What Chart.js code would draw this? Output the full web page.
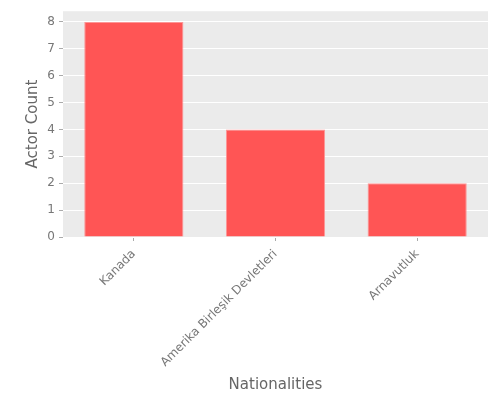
<!DOCTYPE html>
<html lang="tr">
<head>
  <meta charset="UTF-8" />
  <title>Actor Count by Nationality</title>
  <style>
    html, body {
      margin: 0;
      padding: 0;
      background: #fff;
    }
    #wrap {
      width: 500px;
      height: 400px;
    }
  </style>
</head>
<body>
  <div id="wrap"><canvas id="barChart"></canvas></div>

  <script src="https://cdn.jsdelivr.net/npm/chart.js"></script>
  <script>
    // data
    const nationalities = ['Kanada', 'Amerika Birleşik Devletleri', 'Arnavutluk'];
    const actorCounts = [8, 4, 2];
    const yTicks = [0, 1, 2, 3, 4, 5, 6, 7, 8];

    const FONT = "'DejaVu Sans', sans-serif";
    const GREY = '#777';

    // grey panel behind the plot, ggplot style
    const panelBg = {
      id: 'panelBg',
      beforeDraw(chart) {
        const a = chart.chartArea;
        const ctx = chart.ctx;
        ctx.save();
        ctx.fillStyle = '#ebebeb';
        ctx.fillRect(a.left, a.top, a.right - a.left, a.bottom - a.top);
        ctx.restore();
      }
    };

    const ctx = document.getElementById('barChart').getContext('2d');
    const barChart = new Chart(ctx, {
      type: 'bar',
      data: {
        labels: nationalities,
        datasets: [{
          label: 'Actor Count',
          data: actorCounts,
          backgroundColor: '#ff5555',
          borderColor: 'rgba(255, 140, 140, 0.9)',
          borderWidth: 1,
          barPercentage: 0.7,
          categoryPercentage: 1.0
        }]
      },
      options: {
        responsive: true,
        maintainAspectRatio: false,
        animation: false,
        layout: {
          padding: { top: 10, right: 12, left: 0, bottom: 0 }
        },
        plugins: {
          legend: { display: false },
          tooltip: { enabled: false }
        },
        scales: {
          x: {
            offset: true,
            border: { display: false },
            grid: {
              offset: false,
              drawOnChartArea: false,
              tickLength: 4,
              tickColor: '#aaa'
            },
            ticks: {
              color: GREY,
              font: { family: FONT, size: 12 },
              minRotation: 45,
              maxRotation: 45,
              padding: 6
            },
            title: {
              display: true,
              text: 'Nationalities',
              color: '#666',
              font: { family: FONT, size: 15 },
              padding: { top: 0, bottom: 6 }
            },
            afterFit(scale) {
              scale.height = 163;
            }
          },
          y: {
            min: 0,
            max: 8.4,
            border: { display: false },
            afterBuildTicks(scale) {
              scale.ticks = yTicks.map(v => ({ value: v }));
            },
            grid: {
              color: '#ffffff',
              lineWidth: 1,
              tickLength: 4,
              tickColor: '#aaa'
            },
            ticks: {
              color: GREY,
              font: { family: FONT, size: 12 },
              padding: 4
            },
            title: {
              display: true,
              text: 'Actor Count',
              color: '#666',
              font: { family: FONT, size: 15 },
              padding: { top: 24, bottom: 0 }
            },
            afterFit(scale) {
              scale.width = 63;
            }
          }
        }
      },
      plugins: [panelBg]
    });
  </script>
</body>
</html>
